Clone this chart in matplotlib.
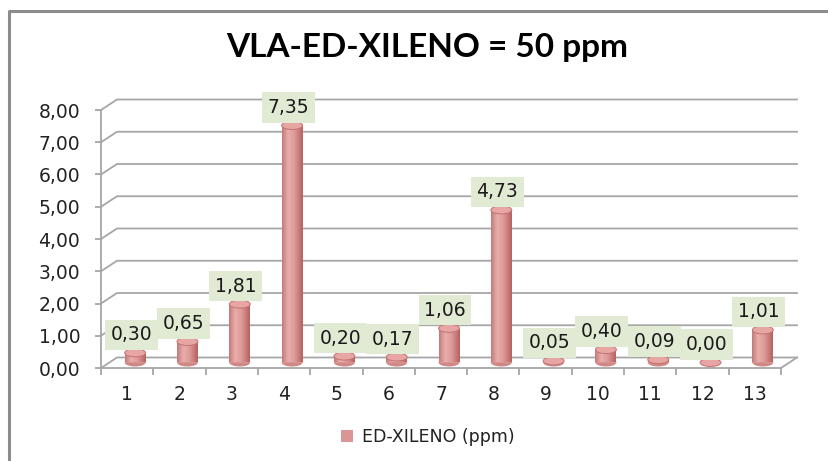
import matplotlib
matplotlib.use("Agg")
import matplotlib.pyplot as plt
import numpy as np
from matplotlib.patches import Ellipse, Patch
from matplotlib.transforms import offset_copy
from matplotlib.colors import LinearSegmentedColormap

# Data
categories = ["1", "2", "3", "4", "5", "6", "7", "8", "9", "10", "11", "12", "13"]
values = [0.30, 0.65, 1.81, 7.35, 0.20, 0.17, 1.06, 4.73, 0.05, 0.40, 0.09, 0.00, 1.01]
y_ticks = [0, 1, 2, 3, 4, 5, 6, 7, 8]
title = "VLA-ED-XILENO = 50 ppm"
series_name = "ED-XILENO (ppm)"

W, H = 829, 461
fig = plt.figure(figsize=(W / 100, H / 100), dpi=100)
plt.rcParams["font.family"] = ["DejaVu Sans"]

# front plane of the 3D box, in pixels
left_px, right_px, top_px, bot_px = 101, 781, 110, 368
ax = fig.add_axes([left_px / W, 1 - bot_px / H, (right_px - left_px) / W, (bot_px - top_px) / H])
n = len(values)
ax.set_xlim(0.5, n + 0.5)
ax.set_ylim(0, 8)
ax.patch.set_visible(False)

grid_col = "#a6a6a6"
# depth offsets: back wall and the middle plane where the cylinders stand
back = offset_copy(ax.transData, fig=fig, x=16, y=10.5, units="dots")
mid = offset_copy(ax.transData, fig=fig, x=8, y=5.5, units="dots")

# gridlines on side wall and back wall
x0, x1 = 0.5, n + 0.5
disp = ax.transData
inv = ax.transData.inverted()
for v in y_ticks:
    p_front = disp.transform((x0, v))
    p_back = back.transform((x0, v))
    p_back_r = back.transform((x1, v))
    pts = inv.transform([p_front, p_back, p_back_r])
    ax.plot(pts[:, 0], pts[:, 1], color=grid_col, lw=1.3, clip_on=False, zorder=1)
# right edge of floor
pf = disp.transform((x1, 0))
pb = back.transform((x1, 0))
pts = inv.transform([pf, pb])
ax.plot(pts[:, 0], pts[:, 1], color=grid_col, lw=1.3, clip_on=False, zorder=1)

# spines / ticks
for s in ["top", "right"]:
    ax.spines[s].set_visible(False)
for s in ["left", "bottom"]:
    ax.spines[s].set_color(grid_col)
    ax.spines[s].set_linewidth(1.3)
ax.set_yticks(y_ticks)
ax.set_yticklabels([f"{t:.2f}".replace(".", ",") for t in y_ticks])
ax.set_xticks(np.arange(1, n + 1))
ax.set_xticklabels(categories)
ax.set_xticks(np.arange(0.5, n + 1), minor=True)
ax.tick_params(axis="x", which="major", length=0, pad=12, labelsize=13.5, labelcolor="#222222")
ax.tick_params(axis="x", which="minor", length=5, color=grid_col, width=1.3)
ax.tick_params(axis="y", length=4, color=grid_col, width=1.3, pad=11, labelsize=13.5, labelcolor="#222222")

# cylinders
bw = 0.40
cap_h = 8 / 32.25
cmap = LinearSegmentedColormap.from_list(
    "cyl", [(0.0, "#c27a78"), (0.3, "#e9aeac"), (0.6, "#dd9a98"), (1.0, "#b5615f")])
grad = np.linspace(0, 1, 128).reshape(1, -1)
xs = np.arange(1, n + 1)
bars = ax.bar(xs, values, width=bw, color="#d99694", transform=mid, zorder=3, linewidth=0)
for xi, v, rect in zip(xs, values, bars):
    # rounded bottom
    ax.add_patch(Ellipse((xi, 0), bw, cap_h, transform=mid, facecolor="#cf8886",
                         edgecolor="none", zorder=2.9, clip_on=False))
    if v > 0:
        im = ax.imshow(grad, extent=[xi - bw / 2, xi + bw / 2, 0, v], transform=mid,
                       cmap=cmap, aspect="auto", zorder=3.1, interpolation="bilinear")
        im.set_clip_path(rect)
    ax.add_patch(Ellipse((xi, v), bw, cap_h, transform=mid, facecolor="#e7a5a4",
                         edgecolor="#c47371", linewidth=0.7, zorder=3.2, clip_on=False))
    ax.annotate(f"{v:.2f}".replace(".", ","), xy=(xi, v), xycoords=mid,
                xytext=(-4, 18), textcoords="offset pixels", ha="center", va="center",
                fontsize=13.5, color="#1a1a1a", zorder=5,
                bbox=dict(boxstyle="square,pad=0.3", facecolor="#e1ead3", edgecolor="none"))

ax.set_xlim(0.5, n + 0.5)
ax.set_ylim(0, 8)

# title
fig.text(427 / W, 1 - 48 / H, title, ha="center", va="center",
         fontsize=24, fontweight="bold", family=["Lato", "DejaVu Sans"], color="#000000")

# legend
fig.legend(handles=[Patch(facecolor="#d99694", edgecolor="none", label=series_name)],
           loc="center", bbox_to_anchor=(428 / W, 1 - 437 / H), frameon=False,
           fontsize=12.5, handlelength=0.7, handleheight=0.7, handletextpad=0.5,
           labelcolor="#222222")

# chart border
fig.add_artist(plt.Line2D([9.5 / W, 9.5 / W, 1.0], [0, 1 - 11 / H, 1 - 11 / H],
                          transform=fig.transFigure, color="#8c8c8c", lw=2.2))

fig.savefig("out.png", dpi=100)
